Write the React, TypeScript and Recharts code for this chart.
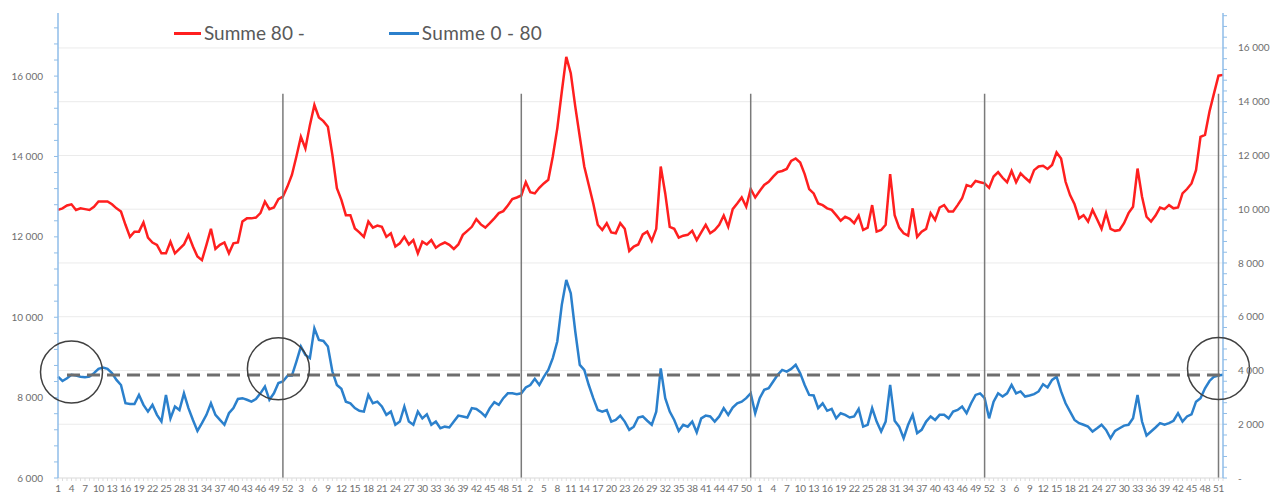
import React from "react";
import {
  ComposedChart,
  Line,
  XAxis,
  YAxis,
  ReferenceLine,
  ReferenceDot,
} from "recharts";

// 5 Jahre à 52 Kalenderwochen
const yearWeeks = [52, 52, 52, 52, 52];
const categories = yearWeeks.flatMap((n, y) =>
  Array.from({ length: n }, (_, w) => `${y + 1}-${w + 1}`)
);

const summe80 = [
  12670, 12710, 12780, 12810, 12670, 12710, 12690, 12670, 12750, 12880,
  12880, 12880, 12810, 12710, 12630, 12300, 12000, 12130, 12130, 12360,
  11980, 11860, 11800, 11590, 11590, 11880, 11590, 11700, 11810, 12050,
  11760, 11510, 11420, 11800, 12200, 11700, 11800, 11860, 11590, 11840,
  11860, 12380, 12460, 12460, 12480, 12590, 12880, 12690, 12730, 12940,
  13000, 13250, 13540, 14000, 14490, 14200, 14780, 15280, 14970, 14880,
  14740, 14040, 13210, 12920, 12540, 12540, 12210, 12110, 12000, 12380,
  12230, 12280, 12250, 12000, 12090, 11760, 11840, 12000, 11810, 11920,
  11590, 11880, 11810, 11920, 11730, 11810, 11860, 11800, 11700, 11810,
  12050, 12150, 12250, 12440, 12310, 12230, 12340, 12460, 12590, 12640,
  12780, 12940, 12980, 13030, 13360, 13110, 13080, 13220, 13330, 13420,
  14000, 14700, 15610, 16480, 16070, 15240, 14490, 13750, 13290, 12830,
  12300, 12170, 12340, 12110, 12090, 12340, 12200, 11650, 11760, 11810,
  12060, 12130, 11900, 12200, 13750, 13080, 12250, 12200, 11980, 12030,
  12050, 12150, 11920, 12110, 12300, 12090, 12170, 12300, 12530, 12250,
  12690, 12830, 12980, 12750, 13190, 12980, 13140, 13290, 13370, 13500,
  13610, 13640, 13690, 13890, 13950, 13850, 13560, 13190, 13080, 12830,
  12790, 12710, 12670, 12540, 12400, 12500, 12450, 12340, 12530, 12170,
  12230, 12790, 12130, 12170, 12300, 13560, 12540, 12230, 12090, 12030,
  12710, 12000, 12130, 12200, 12590, 12420, 12730, 12790, 12630, 12630,
  12790, 12960, 13290, 13250, 13390, 13360, 13330, 13220, 13500, 13610,
  13470, 13360, 13640, 13360, 13580, 13470, 13370, 13660, 13750, 13770,
  13690, 13790, 14100, 13950, 13370, 13040, 12810, 12460, 12540, 12380,
  12670, 12440, 12200, 12590, 12200, 12150, 12170, 12340, 12590, 12750,
  13700, 13000, 12500, 12380, 12530, 12730, 12690, 12790, 12710, 12730,
  13080, 13190, 13330, 13660, 14490, 14540, 15120, 15570, 16010, 16030,
];

const summe0bis80 = [
  3770, 3610, 3710, 3840, 3810, 3770, 3750, 3770, 3900, 4060,
  4110, 4060, 3900, 3650, 3460, 2780, 2750, 2750, 3090, 2720,
  2470, 2720, 2350, 2100, 3090, 2220, 2660, 2530, 3150, 2600,
  2160, 1750, 2040, 2350, 2780, 2350, 2160, 1980, 2410, 2600,
  2940, 2970, 2910, 2840, 2940, 3150, 3400, 2910, 3150, 3530,
  3590, 3800, 3810, 4330, 4890, 4580, 4460, 5570, 5140, 5100,
  4890, 3960, 3460, 3320, 2840, 2780, 2600, 2500, 2470, 3090,
  2780, 2840, 2660, 2350, 2470, 1980, 2100, 2660, 2100, 1980,
  2470, 2220, 2370, 1980, 2100, 1850, 1910, 1880, 2100, 2320,
  2290, 2250, 2600, 2570, 2450, 2290, 2600, 2820, 2720, 2970,
  3150, 3150, 3120, 3150, 3370, 3460, 3690, 3460, 3760, 4020,
  4460, 5080, 6440, 7370, 6870, 5450, 4210, 4020, 3460, 2970,
  2530, 2470, 2530, 2100, 2160, 2320, 2100, 1790, 1910, 2250,
  2290, 2130, 1980, 2470, 4080, 2970, 2470, 2160, 1750, 1980,
  1910, 2100, 1700, 2220, 2320, 2290, 2100, 2290, 2600, 2350,
  2620, 2780, 2840, 2970, 3150, 2410, 2970, 3280, 3340, 3590,
  3840, 4020, 3960, 4060, 4210, 3900, 3460, 3090, 3070, 2600,
  2780, 2500, 2570, 2220, 2410, 2350, 2250, 2290, 2570, 1910,
  1980, 2600, 2100, 1730, 2100, 3460, 2130, 1910, 1480, 1980,
  2350, 1670, 1790, 2100, 2290, 2160, 2350, 2350, 2220, 2470,
  2530, 2660, 2410, 2780, 3090, 3150, 2970, 2220, 2840, 3150,
  3030, 3150, 3460, 3150, 3220, 3030, 3070, 3120, 3220, 3490,
  3370, 3650, 3770, 3220, 2780, 2470, 2160, 2040, 1980, 1910,
  1730, 1850, 1980, 1790, 1480, 1750, 1850, 1950, 1980, 2220,
  3090, 2100, 1580, 1730, 1880, 2040, 1980, 2040, 2130, 2410,
  2100, 2290, 2370, 2840, 2970, 3340, 3610, 3770, 3810, 3840,
];

const leftTicks = Array.from({ length: 29 }, (_, k) => 6000 + k * 400);
const rightTicks = Array.from({ length: 44 }, (_, k) => k * 400);
const gridValues = [2000, 4000, 6000, 8000, 10000, 12000, 14000, 16000];

// Jahreswechsel (von Hand eingezeichnet), Kreise und Schwelle
const yearLines = ["1-51", "2-52", "3-51", "4-51", "5-51"];
const lineTop = 14300;
const circles = [
  { x: "1-4", y: 3940 },
  { x: "1-50", y: 4060 },
  { x: "5-51", y: 4070 },
];
const threshold = 3830;

const data = categories.map((c, i) => ({
  key: c,
  s80: summe80[i],
  s0: summe0bis80[i],
}));

const fmt = (v: number) =>
  String(v).replace(/\B(?=(\d{3})+(?!\d))/g, " ");

const RED = "#ff1f1f";
const BLUE = "#2b80cc";
const AXIS = "#8fbde8";
const TXT = "#6e6e6e";
const FONT = "Lato, 'Open Sans', sans-serif";

export default function App() {
  return (
    <div
      style={{
        position: "absolute",
        left: 0,
        top: 0,
        width: 1276,
        height: 498,
        background: "#fff",
        fontFamily: FONT,
      }}
    >
      <ComposedChart
        width={1276}
        height={498}
        data={data}
        margin={{ top: 13, right: 0, bottom: 0, left: 0 }}
      >
        <XAxis
          dataKey="key"
          type="category"
          scale="point"
          interval={0}
          height={20}
          axisLine={{ stroke: "#d9d9d9" }}
          tickLine={{ stroke: "#dddddd" }}
          tickSize={3}
          tickMargin={4}
          tick={{ fontSize: 10, fill: TXT, fontFamily: FONT, letterSpacing: -0.4 }}
          tickFormatter={(v: string, i: number) =>
            i % 3 === 0 ? v.split("-")[1] : ""
          }
        />
        <YAxis
          yAxisId="left"
          orientation="left"
          width={58}
          domain={[6000, 17570]}
          allowDataOverflow
          ticks={leftTicks}
          interval={0}
          axisLine={{ stroke: AXIS, strokeWidth: 1.5 }}
          tickLine={{ stroke: AXIS }}
          tickSize={4}
          tickMargin={11}
          tick={{ fontSize: 10, fill: TXT, fontFamily: FONT }}
          tickFormatter={(v: number) => (v % 2000 === 0 ? fmt(v) : "")}
        />
        <YAxis
          yAxisId="right"
          orientation="right"
          width={53}
          domain={[0, 17300]}
          allowDataOverflow
          ticks={rightTicks}
          interval={0}
          axisLine={{ stroke: AXIS, strokeWidth: 1.5 }}
          tickLine={{ stroke: AXIS }}
          tickSize={4}
          tickMargin={11}
          tick={{ fontSize: 10, fill: TXT, fontFamily: FONT }}
          tickFormatter={(v: number) =>
            v === 0 ? "-" : v % 2000 === 0 ? fmt(v) : ""
          }
        />

        {gridValues.map((v) => (
          <ReferenceLine
            key={v}
            yAxisId="right"
            y={v}
            stroke="#ebebeb"
            strokeWidth={1}
          />
        ))}

        <Line
          yAxisId="left"
          dataKey="s80"
          stroke={RED}
          strokeWidth={2.5}
          dot={false}
          isAnimationActive={false}
        />
        <Line
          yAxisId="right"
          dataKey="s0"
          stroke={BLUE}
          strokeWidth={2.5}
          dot={false}
          isAnimationActive={false}
        />

        {yearLines.map((c) => (
          <ReferenceLine
            key={c}
            yAxisId="right"
            segment={[
              { x: c, y: 0 },
              { x: c, y: lineTop },
            ]}
            stroke="#7a7a7a"
            strokeWidth={1.5}
          />
        ))}
        <ReferenceLine
          yAxisId="right"
          segment={[
            { x: "1-3", y: threshold },
            { x: "5-52", y: threshold },
          ]}
          stroke="#6e6e6e"
          strokeWidth={3}
          strokeDasharray="13 7"
        />
        {circles.map((c) => (
          <ReferenceDot
            key={c.x}
            yAxisId="right"
            x={c.x}
            y={c.y}
            r={31}
            fill="none"
            stroke="#404040"
            strokeWidth={1.5}
          />
        ))}
      </ComposedChart>

      {/* Legende */}
      <div
        style={{
          position: "absolute",
          top: 22,
          left: 174,
          display: "flex",
          alignItems: "center",
          fontSize: 19,
          color: "#595959",
          lineHeight: "22px",
        }}
      >
        <span
          style={{ width: 27, height: 3, background: RED, marginRight: 3 }}
        />
        <span style={{ marginRight: 84 }}>Summe 80 -</span>
        <span
          style={{ width: 30, height: 3, background: BLUE, marginRight: 3 }}
        />
        <span style={{ letterSpacing: 0.3 }}>Summe 0 - 80</span>
      </div>
    </div>
  );
}
